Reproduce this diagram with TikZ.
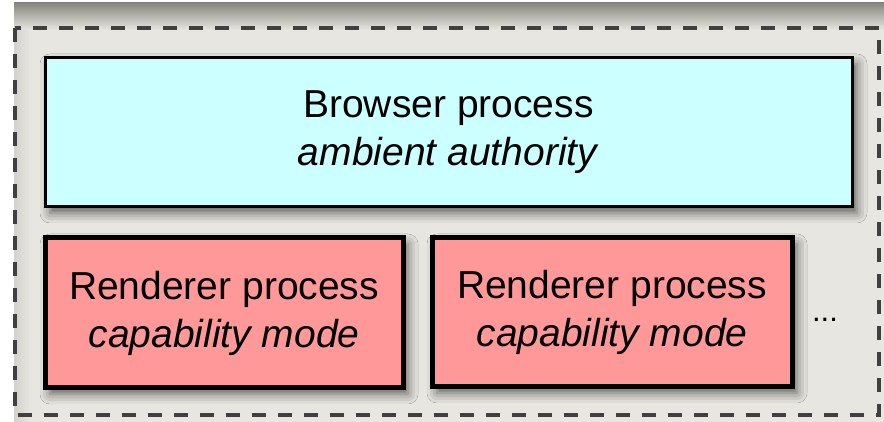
\documentclass[tikz,border=0pt]{standalone}
\usepackage{fontspec}
\setmainfont{Liberation Sans}
\usepackage{xcolor}
\usepackage{tikz}
\usetikzlibrary{shadows.blur}
\definecolor{paper}{HTML}{E7E6E0}
\definecolor{topgray}{HTML}{86867F}
\definecolor{dashgray}{HTML}{404040}
\definecolor{browsercyan}{HTML}{CCFFFF}
\definecolor{rendererpink}{HTML}{FF9999}
\newcommand{\boxfont}{\fontsize{39}{48}\selectfont}
\tikzset{
    procbox/.style={draw=black, rectangle, align=center, font=\boxfont,
        blur shadow={shadow xshift=5pt, shadow yshift=-6pt,
            shadow blur radius=10pt, shadow opacity=60}},
    browserbox/.style={procbox, fill=browsercyan, line width=3pt},
    rendererbox/.style={procbox, fill=rendererpink, line width=5pt}
}

\begin{document}
\begin{tikzpicture}[x=1pt,y=1pt]
            \useasboundingbox (0,0) rectangle (884,422);
            % paper and the dark band along the top
            \fill[paper] (14,0) rectangle (884,419);
            \shade[top color=topgray, bottom color=paper] (14,392) rectangle (884,419);
            \shade[left color=paper!80!gray, right color=paper] (14,0) rectangle (30,392);
            % dashed frame round all processes
            \draw[dashgray, line width=3.5pt, dash pattern=on 14pt off 12pt]
                (15,394) rectangle (879,7);
            \node[browserbox, minimum width=807, minimum height=149] (browser) at (448.5,289.5)
                {Browser process\\\textit{ambient authority}};
            \node[rendererbox, minimum width=358, minimum height=150] (renderer1) at (224,109)
                {Renderer process\\\textit{capability mode}};
            \node[rendererbox, minimum width=360, minimum height=149] (renderer2) at (612,109.5)
                {Renderer process\\\textit{capability mode}};
            \node[anchor=base, font=\fontsize{31}{36}\selectfont, inner sep=0pt] (more) at (825,100) {...};
        \end{tikzpicture}
\end{document}
